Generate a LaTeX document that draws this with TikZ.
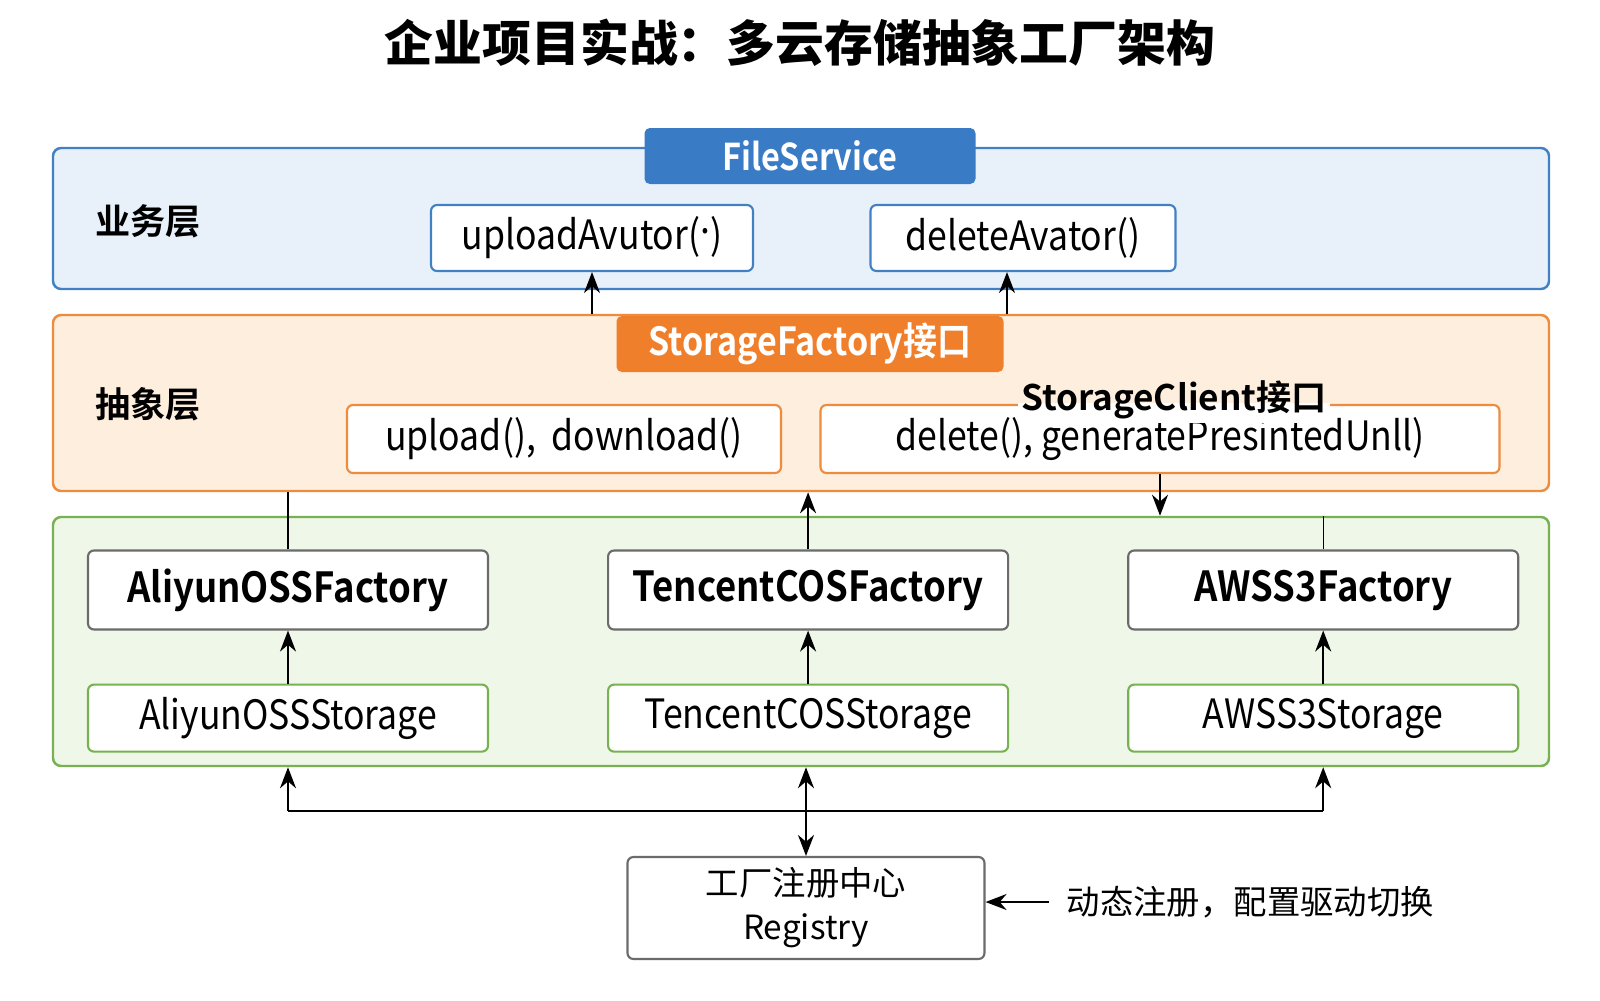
\documentclass[tikz,border=0pt]{standalone}
\usepackage{fontspec}
\setmainfont{Noto Sans CJK SC}[BoldFont=* Bold]
\newfontfamily\heavyfont{Noto Sans CJK SC Black}
\newfontfamily\condfont{Noto Sans CJK SC}[BoldFont=* Bold, FakeStretch=0.88]
\usepackage{xcolor}
\usepackage{tikz}
\usetikzlibrary{arrows.meta,positioning}
\definecolor{bluehd}{HTML}{3A7BC5}
\definecolor{blueln}{HTML}{4280C4}
\definecolor{bluebg}{HTML}{E8F1FA}
\definecolor{orghd}{HTML}{F07F2B}
\definecolor{orgln}{HTML}{EE8B3D}
\definecolor{orgbg}{HTML}{FDEEDD}
\definecolor{grnln}{HTML}{77B152}
\definecolor{grnbg}{HTML}{EFF7E8}
\definecolor{grayln}{HTML}{6B6B6B}
\tikzset{
  layer/.style={draw=#1ln, fill=#1bg, rounded corners=2.3pt, line width=0.7pt},
  hd/.style={fill=#1hd, rounded corners=1.5pt, text=white, inner sep=0pt, font=\condfont\bfseries\fontsize{10.5}{12}\selectfont},
  blk/.style={draw=#1, fill=white, rounded corners=1.7pt, line width=0.6pt, inner sep=1pt, font=\condfont\fontsize{11.5}{13}\selectfont},
  lyr/.style={inner sep=0pt, font=\bfseries\fontsize{10}{12}\selectfont},
  arr/.style={-{Stealth[length=2.1mm, width=1.6mm]}, line width=0.65pt},
  dbl/.style={{Stealth[length=2.1mm, width=1.6mm]}-{Stealth[length=2.1mm, width=1.6mm]}, line width=0.65pt},
}

\begin{document}
\begin{tikzpicture}[x=0.1mm, y=-0.1mm, node distance=5.3mm and 11.8mm]
  \fill[white] (0,0) rectangle (1600,1000);
  \useasboundingbox (0,0) rectangle (1600,1000);
  \node[font=\heavyfont\fontsize{13.9}{16}\selectfont] (title) at (800,43) {企业项目实战：多云存储抽象工厂架构};

  % business layer
  \node[layer=blue, minimum width=149.6mm, minimum height=14.1mm] (biz) at (801,218.5) {};
  \node[hd=blue, minimum width=33.1mm, minimum height=5.6mm] (fs) at (810,156) {FileService};
  \node[lyr, right] (bizlbl) at (95,221) {业务层};
  \node[blk=blueln, minimum width=32.2mm, minimum height=6.6mm] (upav) at (592,238) {uploadAvutor(\raisebox{0.75ex}{.})};
  \node[blk=blueln, minimum width=30.5mm, minimum height=6.6mm] (delav) at (1023,238) {deleteAvator()};

  % abstraction layer
  \node[layer=org, minimum width=149.6mm, minimum height=17.6mm] (abs) at (801,403) {};
  \node[hd=org, minimum width=38.7mm, minimum height=5.6mm, font=\condfont\bfseries\fontsize{11}{12}\selectfont] (sf) at (810,344) {StorageFactory接口};
  \node[lyr, right] (abslbl) at (95,404) {抽象层};
  \node[blk=orgln, minimum width=43.4mm, minimum height=6.8mm] (updn) at (564,439) {upload(),\ \ download()};
  \node[blk=orgln, minimum width=67.9mm, minimum height=6.8mm] (delgen) at (1160,439) {delete(), generatePresintedUnll)};
  \node[lyr, inner sep=1pt, fill=white,
    path picture={\fill[orgbg] (path picture bounding box.north west) rectangle ([yshift=0.3pt]path picture bounding box.east |- delgen.north);}]
    (sc) at (1174,400) {StorageClient接口};

  % implementation layer
  \node[layer=grn, minimum width=149.6mm, minimum height=24.9mm] (impl) at (801,641.5) {};
  \node[blk=grayln, minimum width=40mm, minimum height=7.9mm, font=\condfont\bfseries\fontsize{11.8}{14}\selectfont] (alif) at (288,590) {AliyunOSSFactory};
  \node[blk=grayln, minimum width=40mm, minimum height=7.9mm, font=\condfont\bfseries\fontsize{11.8}{14}\selectfont, right=of alif] (tenf) {TencentCOSFactory};
  \node[blk=grayln, minimum width=39mm, minimum height=7.9mm, font=\condfont\bfseries\fontsize{11.8}{14}\selectfont, right=of tenf] (awsf) {AWSS3Factory};
  \node[blk=grnln, minimum width=40mm, minimum height=6.7mm, below=of alif] (alis) {AliyunOSSStorage};
  \node[blk=grnln, minimum width=40mm, minimum height=6.7mm, below=of tenf] (tens) {TencentCOSStorage};
  \node[blk=grnln, minimum width=39mm, minimum height=6.7mm, below=of awsf] (awss) {AWSS3Storage};

  % registry
  \node[blk=grayln, minimum width=35.7mm, minimum height=10.2mm, align=center, font=\fontsize{9.5}{12.5}\selectfont] (reg) at (806,908) {工厂注册中心\\Registry};
  \node[right, inner xsep=1.7mm, font=\fontsize{9.5}{12}\selectfont] (note) at (1049,902) {动态注册，配置驱动切换};
  \coordinate (delin) at ([xshift=-1.6mm]delav.south);
  \coordinate (bus) at (806,811);

  \draw[arr] (upav.south |- abs.north) -- (upav.south);
  \draw[arr] (delin |- abs.north) -- (delin);
  \draw (alif) -- (alif |- abs.south);
  \draw[arr] (tenf) -- (tenf |- abs.south);
  \draw[arr] (delgen) -- (delgen |- impl.north);
  \draw (awsf) -- (awsf |- impl.north);
  \draw[arr] (alis) -- (alif);
  \draw[arr] (tens) -- (tenf);
  \draw[arr] (awss) -- (awsf);
  \draw (bus -| alis) -- (bus -| awss);
  \draw[arr] (bus -| alis) -- (alis |- impl.south);
  \draw[arr] (bus -| awss) -- (awss |- impl.south);
  \draw[dbl] (reg) -- (reg |- impl.south);
  \draw[arr] (note) -- (note -| reg.east);
\end{tikzpicture}
\end{document}
